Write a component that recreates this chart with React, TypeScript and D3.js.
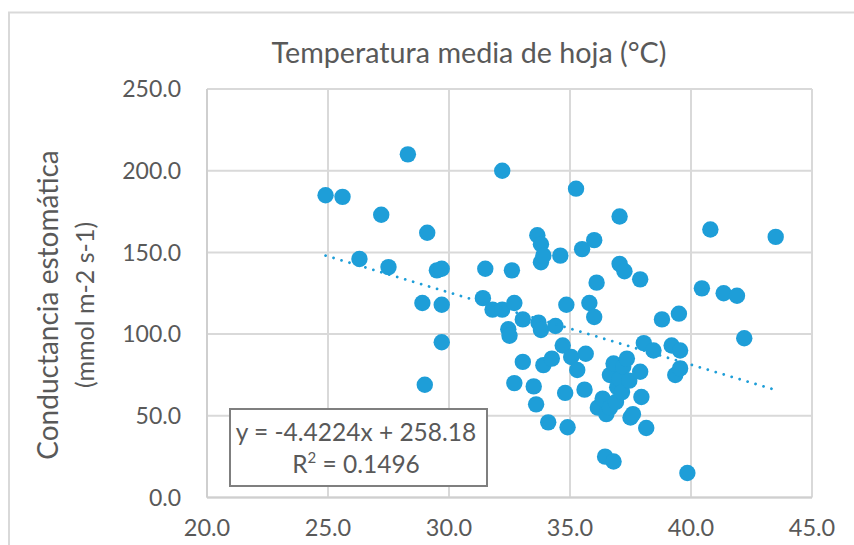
import React from "react";
import * as d3 from "d3";

const temperature: number[] = [
  24.9, 25.6, 26.3, 27.2, 27.5, 28.3, 28.9, 29.0, 29.1, 29.5, 29.7, 29.7, 29.7,
  31.4, 31.5, 31.8, 32.2, 32.2, 32.45, 32.5, 32.6, 32.7, 32.7, 33.05, 33.05, 33.5,
  33.6, 33.65, 33.7, 33.8, 33.8, 33.8, 33.9, 33.9, 34.1, 34.25, 34.4, 34.6, 34.7,
  34.8, 34.85, 34.9, 35.05, 35.25, 35.3, 35.5, 35.6, 35.65, 35.8, 36.0, 36.0, 36.1,
  36.15, 36.35, 36.45, 36.5, 36.65, 36.65, 36.8, 36.8, 36.9, 36.95, 37.05, 37.05,
  37.05, 37.15, 37.2, 37.25, 37.35, 37.45, 37.5, 37.6, 37.9, 37.9, 37.95, 38.05,
  38.15, 38.45, 38.8, 39.2, 39.35, 39.5, 39.55, 39.55, 39.85, 40.45, 40.8, 41.35,
  41.9, 42.2, 43.5,
];
const conductance: number[] = [
  185, 184, 146, 173, 141, 210, 119, 69, 162, 139, 140, 118, 95,
  122, 140, 115, 115, 200, 103, 99, 139, 119, 70, 109, 83, 68,
  57, 160.5, 107, 102.5, 155, 144, 148, 81, 46, 85, 105, 148, 93,
  64, 118, 43, 86, 189, 78, 152, 66, 88, 119, 110.5, 157.5, 131.5,
  55, 60.5, 25, 51, 55, 75, 82, 22, 58.5, 67.5, 172, 143,
  72.5, 64.5, 80, 138.5, 85, 71.5, 49, 51, 133.5, 77, 61.5, 94.5,
  42.5, 90, 109, 93, 75, 112.5, 90, 79, 15, 128, 164, 125,
  123.5, 97.5, 159.5,
];
const xTicks: number[] = [20, 25, 30, 35, 40, 45];
const yTicks: number[] = [0, 50, 100, 150, 200, 250];
const slope = -4.4224;
const intercept = 258.18;
const titleText = "Temperatura media de hoja (°C)";
const yTitle1 = "Conductancia estomática";
const yTitle2 = "(mmol m-2 s-1)";
const eqLine1 = "y = -4.4224x + 258.18";
const eqR2 = "0.1496";

const FONT = "Lato, 'Open Sans', sans-serif";
const TEXT = "#595959";
const GRID = "#d9d9d9";
const BLUE = "#1E9ED8";

export default function App() {
  const left = 207, right = 812, top = 89, bottom = 497.5;
  const x = d3.scaleLinear().domain([20, 45]).range([left, right]);
  const y = d3.scaleLinear().domain([0, 250]).range([bottom, top]);
  const xMin = d3.min(temperature) as number;
  const xMax = d3.max(temperature) as number;
  const trend = d3.line<number>().x((d) => x(d)).y((d) => y(slope * d + intercept));

  return (
    <svg width={854} height={545} style={{ position: "absolute", left: 0, top: 0 }}>
      <rect x={0} y={0} width={854} height={545} fill="#fff" />
      <rect x={9} y={12.5} width={900} height={600} fill="#fff" stroke={GRID} strokeWidth={2} />
      <text x={469} y={63} textAnchor="middle" fontFamily={FONT} fontSize={28.7} fill={TEXT}>
        {titleText}
      </text>
      {xTicks.map((t) => (
        <line key={"gx" + t} x1={x(t)} x2={x(t)} y1={top} y2={bottom} stroke={GRID} strokeWidth={2} />
      ))}
      {yTicks.map((t) => (
        <line key={"gy" + t} x1={left} x2={right} y1={y(t)} y2={y(t)} stroke={GRID} strokeWidth={2} />
      ))}
      <line x1={left} x2={left} y1={top} y2={bottom} stroke="#cfcfcf" strokeWidth={2} />
      <line x1={left} x2={right} y1={bottom} y2={bottom} stroke="#cfcfcf" strokeWidth={2} />
      {yTicks.map((t) => (
        <text key={"ty" + t} x={181} y={y(t)} dy="0.36em" textAnchor="end" fontFamily={FONT} fontSize={23} fill={TEXT}>
          {t.toFixed(1)}
        </text>
      ))}
      {xTicks.map((t) => (
        <text key={"tx" + t} x={x(t)} y={536} textAnchor="middle" fontFamily={FONT} fontSize={23.5} fill={TEXT}>
          {t.toFixed(1)}
        </text>
      ))}
      <g transform="translate(48,305) rotate(-90)">
        <text x={0} y={0} dy="0.35em" textAnchor="middle" fontFamily={FONT} fontSize={28} fill={TEXT}>
          {yTitle1}
        </text>
      </g>
      <g transform="translate(85,305) rotate(-90)">
        <text x={0} y={0} dy="0.35em" textAnchor="middle" fontFamily={FONT} fontSize={25} fill={TEXT}>
          {yTitle2}
        </text>
      </g>
      {temperature.map((t, i) => (
        <circle key={"p" + i} cx={x(t)} cy={y(conductance[i])} r={8.2} fill={BLUE} />
      ))}
      <path
        d={trend([xMin, xMax]) || ""}
        fill="none"
        stroke={BLUE}
        strokeWidth={2.8}
        strokeLinecap="round"
        strokeDasharray="0.01 8.3"
      />
      <rect x={230} y={409} width={257} height={77} fill="#fff" stroke="#7f7f7f" strokeWidth={2} />
      <text x={356} y={441} textAnchor="middle" fontFamily={FONT} fontSize={24.5} fill={TEXT}>
        {eqLine1}
      </text>
      <text x={356} y={473} textAnchor="middle" fontFamily={FONT} fontSize={24.5} fill={TEXT}>
        R<tspan fontSize={15} dy={-10}>2</tspan>
        <tspan dy={10}>{" = " + eqR2}</tspan>
      </text>
    </svg>
  );
}
